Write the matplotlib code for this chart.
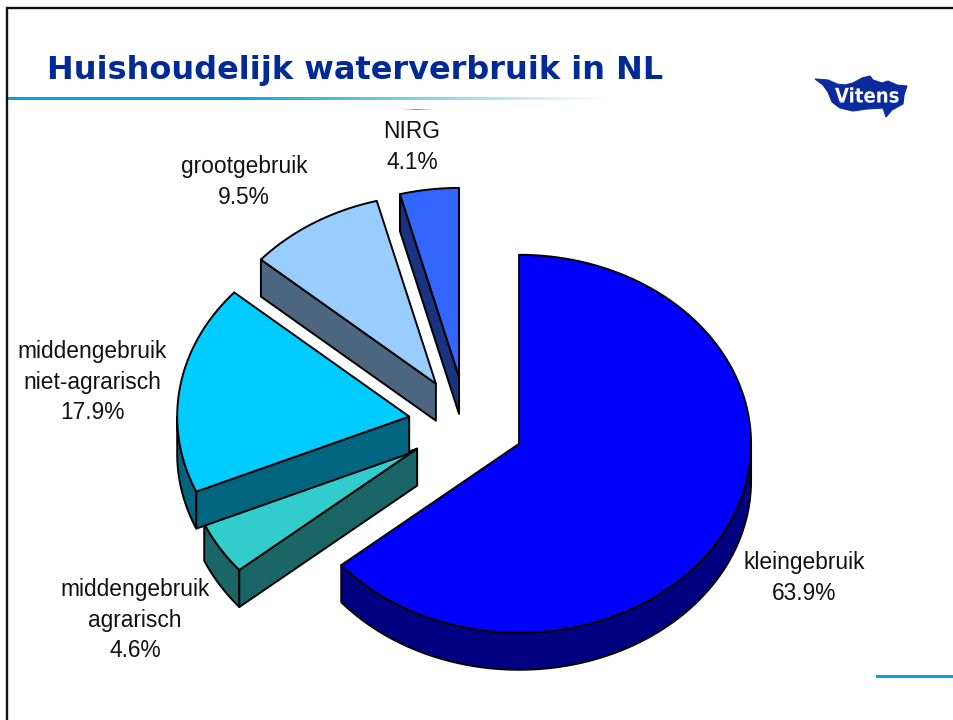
import numpy as np
import matplotlib
matplotlib.use('Agg')
import matplotlib.pyplot as plt
from matplotlib.patches import Polygon, Rectangle
import matplotlib.patheffects as pe

title = 'Huishoudelijk waterverbruik in NL'

# slices, clockwise from 12 o'clock
shares = [63.9, 4.6, 17.9, 9.5, 4.1]
top_colors = ['#0000FF', '#33CCCC', '#00CCFF', '#99CCFF', '#3366FF']
side_colors = ['#000080', '#1A6666', '#006680', '#4D6680', '#1A3380']
explode = 0.25
labels = ['kleingebruik\n63.9%', 'middengebruik\nagrarisch\n4.6%',
          'middengebruik\nniet-agrarisch\n17.9%', 'grootgebruik\n9.5%', 'NIRG\n4.1%']
label_x = [804, 135, 92, 244, 412]
label_y = [578, 620, 382, 182, 147]

# pie geometry in pixels
cx, cy = 466.5, 423.8
rx, ry = 232, 189
depth = 37

logo_blob = [(815, 79), (828, 80), (837, 84), (845, 85), (853, 83), (862, 78), (870, 76),
             (873, 80), (882, 83), (888, 81), (897, 85), (907, 86), (904, 95), (903, 104),
             (892, 110), (886, 117), (883, 108), (867, 109), (853, 111), (840, 108),
             (832, 102), (828, 92), (823, 85)]


def ell(a, ox, oy):
    a = np.radians(a)
    return ox + rx * np.sin(a), oy - ry * np.cos(a)


def side_poly(xs, ys, color):
    xs = np.asarray(xs)
    ys = np.asarray(ys)
    pts = np.column_stack([np.r_[xs, xs[::-1]], np.r_[ys, ys[::-1] + depth]])
    ax.add_patch(Polygon(pts, closed=True, fc=color, ec='black', lw=1.4, joinstyle='round'))


fig = plt.figure(figsize=(9.54, 7.2), dpi=100)
ax = fig.add_axes([0, 0, 1, 1])

# gradient rule under the title
grad = np.zeros((1, 300, 4))
grad[..., :3] = matplotlib.colors.to_rgb('#00A6D6')
grad[..., 3] = np.r_[np.ones(110), np.linspace(1, 0, 190)]
ax.imshow(grad, extent=[8, 610, 100, 97], aspect='auto', zorder=1)

grad2 = np.zeros((1, 60, 4))
grad2[..., :3] = matplotlib.colors.to_rgb('#6070C0')
grad2[..., 3] = np.r_[np.linspace(0, .8, 25), np.linspace(.8, 0, 35)]
ax.imshow(grad2, extent=[402, 436, 110, 109], aspect='auto', zorder=1)

ax.set_xlim(0, 954)
ax.set_ylim(720, 0)
ax.axis('off')

# slide frame
ax.plot([7, 7, 954], [720, 8, 8], color='#111111', lw=1.7, solid_joinstyle='miter')
ax.add_patch(Rectangle((876, 675), 78, 3, fc='#00A6D6', ec='none'))

ax.text(47, 70, title, family='DejaVu Sans', weight='bold', fontsize=23, color='#002A96',
        va='center', ha='left')

# logo
ax.add_patch(Polygon(logo_blob, closed=True, fc='#0A2A9E', ec='#0A2A9E', lw=.8))
ax.text(867, 97, 'Vitens', family='DejaVu Sans', weight='bold', stretch='condensed', fontsize=14.5,
        color='white', va='center', ha='center',
        path_effects=[pe.withStroke(linewidth=1.2, foreground='#0A2A9E')])

# pie, back to front
edges = np.r_[0, np.cumsum(shares)] / np.sum(shares) * 360
for i in [0, 1, 2, 3, 4]:
    a0, a1 = edges[i], edges[i + 1]
    mid = np.radians((a0 + a1) / 2)
    ox = cx + explode * rx * np.sin(mid)
    oy = cy - explode * ry * np.cos(mid)
    # front rim
    lo, hi = max(a0, 90), min(a1, 270)
    if hi > lo:
        xs, ys = ell(np.linspace(lo, hi, 80), ox, oy)
        side_poly(xs, ys, side_colors[i])
    # cut face on the leading edge
    if np.sin(np.radians(a0)) < -1e-6:
        ex, ey = ell(a0, ox, oy)
        side_poly([ox, ex], [oy, ey], side_colors[i])
    xs, ys = ell(np.linspace(a0, a1, 120), ox, oy)
    pts = np.column_stack([np.r_[ox, xs], np.r_[oy, ys]])
    ax.add_patch(Polygon(pts, closed=True, fc=top_colors[i], ec='black', lw=1.4, joinstyle='round'))

for lab, x, y in zip(labels, label_x, label_y):
    ax.text(x, y, lab, family='Liberation Sans', fontsize=16.4, color='#111111', ha='center',
            va='center', linespacing=1.42)

fig.savefig('out.png', dpi=100)
